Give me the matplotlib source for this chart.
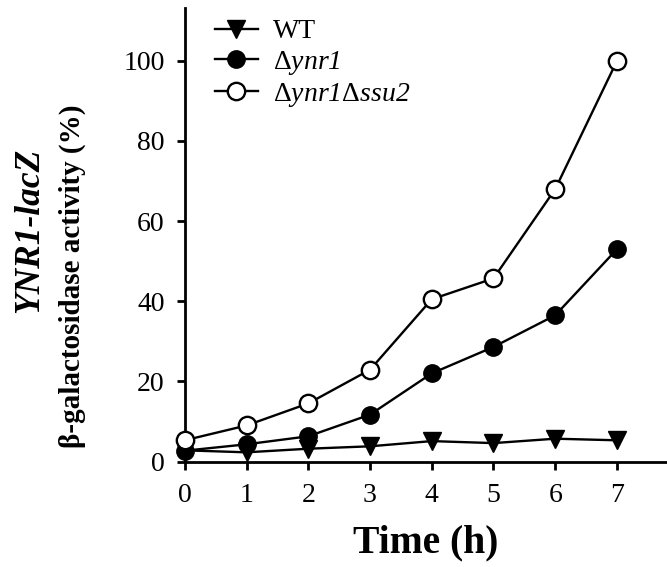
import matplotlib
matplotlib.use("Agg")
import matplotlib.pyplot as plt

# beta-galactosidase activity (%) over time
time_h = [0, 1, 2, 3, 4, 5, 6, 7]
wt = [2.8, 2.3, 3.2, 3.8, 5.1, 4.6, 5.7, 5.3]
ynr1 = [2.7, 4.3, 6.3, 11.7, 22.0, 28.6, 36.5, 53.0]
ynr1_ssu2 = [5.3, 9.0, 14.5, 22.9, 40.5, 45.7, 68.0, 100.0]

# upright Delta via \mathsf, italic gene names (digits follow rm -> italic)
labels = ["WT", r"$\mathsf{\Delta}ynr1$", r"$\mathsf{\Delta}ynr1\mathsf{\Delta}ssu2$"]

plt.rcParams["font.family"] = "Liberation Serif"
plt.rcParams["mathtext.fontset"] = "custom"
plt.rcParams["mathtext.rm"] = "Liberation Serif:italic"
plt.rcParams["mathtext.it"] = "Liberation Serif:italic"
plt.rcParams["mathtext.sf"] = "Liberation Serif"

fig = plt.figure(figsize=(6.67, 5.67), dpi=100)
ax = fig.add_axes([0.277, 0.186, 0.723, 0.800])

lw = 1.7
ax.plot(time_h, wt, color="black", lw=lw, marker="v", ms=13,
        mfc="black", mec="black", clip_on=False, label=labels[0], zorder=3)
ax.plot(time_h, ynr1, color="black", lw=lw, marker="o", ms=12.5,
        mfc="black", mec="black", clip_on=False, label=labels[1], zorder=4)
ax.plot(time_h, ynr1_ssu2, color="black", lw=lw, marker="o", ms=12.5,
        mfc="white", mec="black", mew=1.7, clip_on=False, label=labels[2], zorder=5)

ax.set_xlim(0, 7.81)
ax.set_ylim(0, 113.2)
ax.set_xticks(time_h)
ax.set_yticks([0, 20, 40, 60, 80, 100])
ax.spines["top"].set_visible(False)
ax.spines["right"].set_visible(False)
ax.spines["left"].set_linewidth(2)
ax.spines["bottom"].set_linewidth(2)
ax.tick_params(direction="out", length=5.5, width=2, labelsize=20, pad=9)
ax.tick_params(axis="x", pad=10)

ax.set_xlabel("Time (h)", fontsize=28.5, fontweight="bold", labelpad=12)

fig.text(0.045, 0.594, "YNR1-lacZ", rotation=90, fontsize=25.5, fontweight="bold",
         fontstyle="italic", ha="center", va="center")
fig.text(0.109, 0.513, "β-galactosidase activity (%)", rotation=90, fontsize=21,
         fontweight="bold", ha="center", va="center")

leg = ax.legend(loc="upper left", bbox_to_anchor=(0.039, 1.0), frameon=False,
                fontsize=20, handlelength=1.55, handletextpad=0.55,
                labelspacing=0.15, borderaxespad=0.0)

fig.savefig("out.png", dpi=100)
